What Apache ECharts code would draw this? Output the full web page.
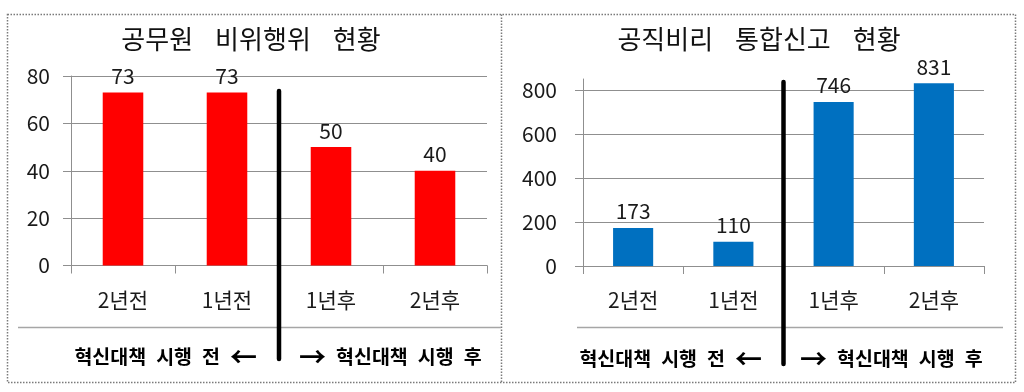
<!DOCTYPE html>
<html><head><meta charset="utf-8">
<script src="https://cdn.jsdelivr.net/npm/echarts@6/dist/echarts.min.js"></script>
<style>html,body{margin:0;padding:0;background:#fff}#c{width:1024px;height:392px}</style>
</head><body><div id="c"></div>
<script>
// ---- data ----
const categories = ['2년전', '1년전', '1년후', '2년후'];
const leftValues = [73, 73, 50, 40];
const rightValues = [173, 110, 746, 831];
const leftTitle = '공무원 비위행위 현황';
const rightTitle = '공직비리 통합신고 현황';
const beforeText = '혁신대책 시행 전 ←';
const afterText = '→ 혁신대책 시행 후';
const leftTicks = [0, 20, 40, 60, 80];
const rightTicks = [0, 200, 400, 600, 800];

// ---- style ----
const FONT = '"Noto Sans CJK KR", "Noto Sans", sans-serif';
const GRID_COLOR = '#8f8f8f';
const TEXT_COLOR = '#1a1a1a';

function spaced(str, tag) {
  return str.split(' ').map(w => '{' + ((w === '←' || w === '→') ? 'a' : tag) + '|' + w + '}').join('{sp| }');
}

const chart = echarts.init(document.getElementById('c'), null, {renderer: 'canvas'});

function yAxisOpt(ticks, max, margin) {
  return {
    type: 'value', min: ticks[0], max: max, interval: ticks[1] - ticks[0],
    axisLine: {show: true, lineStyle: {color: GRID_COLOR, width: 1}},
    axisTick: {show: true, length: 8, inside: false, lineStyle: {color: GRID_COLOR}},
    axisLabel: {fontSize: 21, color: TEXT_COLOR, fontFamily: FONT, margin: margin, showMaxLabel: max === ticks[ticks.length - 1]},
    splitLine: {show: true, showMaxLine: max === ticks[ticks.length - 1], lineStyle: {color: GRID_COLOR, width: 1}}
  };
}
function xAxisOpt(gi) {
  return {
    type: 'category', gridIndex: gi, data: categories,
    axisLine: {show: true, lineStyle: {color: GRID_COLOR, width: 1}},
    axisTick: {show: true, length: 8, interval: 0, lineStyle: {color: GRID_COLOR}},
    axisLabel: {fontSize: 21, color: TEXT_COLOR, fontFamily: FONT, margin: 24, interval: 0}
  };
}
const titleRich = {
  t: {fontSize: 26, fontFamily: FONT, color: '#111', fontWeight: 'normal'},
  sp: {width: 22, fontSize: 26}
};
const labelOpt = {show: true, position: 'top', distance: 6, fontSize: 21, color: TEXT_COLOR, fontFamily: FONT};

chart.setOption({
  animation: false,
  title: [
    {text: spaced(leftTitle, 't'), left: 251, top: 26, padding: 0, textAlign: 'center', textStyle: {rich: titleRich, fontSize: 26, fontFamily: FONT}},
    {text: spaced(rightTitle, 't'), left: 759, top: 26, padding: 0, textAlign: 'center', textStyle: {rich: titleRich, fontSize: 26, fontFamily: FONT}}
  ],
  grid: [
    {left: 71, top: 76, width: 416, height: 189.5, containLabel: false},
    {left: 583, top: 79, width: 401, height: 187, containLabel: false}
  ],
  xAxis: [xAxisOpt(0), xAxisOpt(1)],
  yAxis: [
    Object.assign({gridIndex: 0}, yAxisOpt(leftTicks, 80, 21)),
    Object.assign({gridIndex: 1}, yAxisOpt(rightTicks, 850, 26))
  ],
  series: [
    {type: 'bar', xAxisIndex: 0, yAxisIndex: 0, data: leftValues, barWidth: '39%', itemStyle: {color: '#FF0000'}, label: labelOpt},
    {type: 'bar', xAxisIndex: 1, yAxisIndex: 1, data: rightValues, barWidth: '40%', itemStyle: {color: '#0070C0'}, label: labelOpt}
  ]
});

// decorations positioned from the axes
const lx = (chart.convertToPixel({xAxisIndex: 0}, categories[1]) + chart.convertToPixel({xAxisIndex: 0}, categories[2])) / 2;
const rx = (chart.convertToPixel({xAxisIndex: 1}, categories[1]) + chart.convertToPixel({xAxisIndex: 1}, categories[2])) / 2;
const noteRich = {
  w: {fontSize: 19.5, fontWeight: 'bold', fontFamily: FONT, color: '#111'},
  a: {fontSize: 27, fontWeight: 'bold', fontFamily: FONT, color: '#111'},
  sp: {width: 10, fontSize: 19}
};
function note(text, x, y, align) {
  return {type: 'text', x: x, y: y, z: 10, style: {text: spaced(text, 'w'), rich: noteRich, align: align, verticalAlign: 'middle', fontSize: 19, fontFamily: FONT}};
}
const dotted = {stroke: '#7a7a7a', lineWidth: 1.5, lineDash: [1.5, 1.5], fill: null};
chart.setOption({
  graphic: [
    {type: 'rect', shape: {x: 7.5, y: 14.5, width: 1008, height: 368}, style: dotted, silent: true},
    {type: 'line', shape: {x1: 501.5, y1: 14.5, x2: 501.5, y2: 382.5}, style: dotted, silent: true},
    {type: 'line', shape: {x1: 18, y1: 327.5, x2: 501, y2: 327.5}, style: {stroke: '#a6a6a6', lineWidth: 1.5}, silent: true},
    {type: 'line', shape: {x1: 577, y1: 327.5, x2: 1003, y2: 327.5}, style: {stroke: '#a6a6a6', lineWidth: 1.5}, silent: true},
    {type: 'line', shape: {x1: lx, y1: 91, x2: lx, y2: 359}, style: {stroke: '#000', lineWidth: 4.5, lineCap: 'round'}, z: 20, silent: true},
    {type: 'line', shape: {x1: rx, y1: 82, x2: rx, y2: 364}, style: {stroke: '#000', lineWidth: 4.5, lineCap: 'round'}, z: 20, silent: true},
    note(beforeText, 257, 357, 'right'),
    note(afterText, 299, 357, 'left'),
    note(beforeText, 762, 359, 'right'),
    note(afterText, 800, 359, 'left')
  ]
});
</script></body></html>
